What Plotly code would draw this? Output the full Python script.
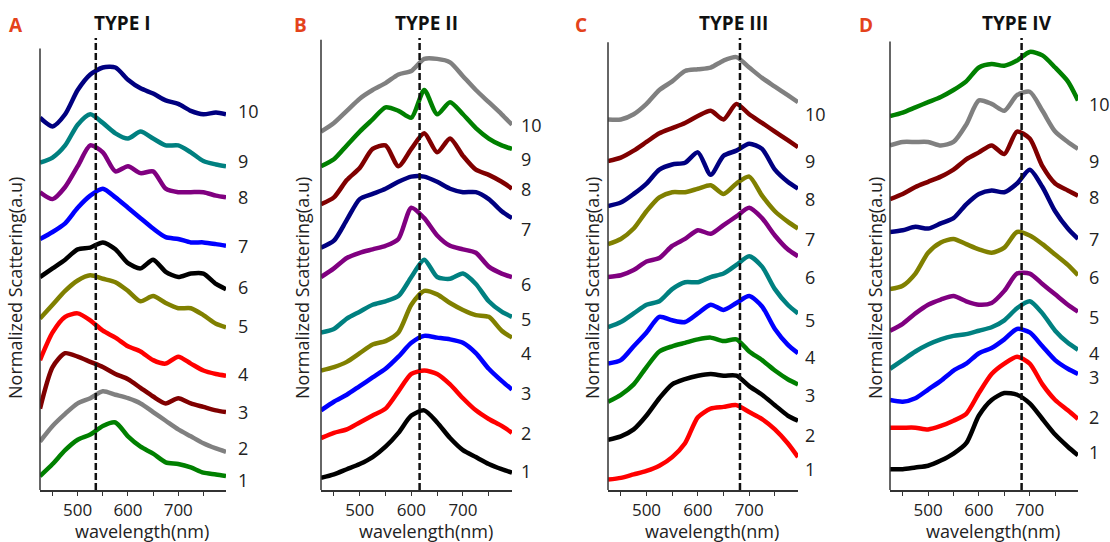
import plotly.graph_objects as go

# ---------------- data ----------------
wavelength = [425, 450, 475, 500, 525, 550, 575, 600, 625, 650, 675, 700, 725, 750, 775, 795]
curve_labels = ["1", "2", "3", "4", "5", "6", "7", "8", "9", "10"]

# TYPE I (stacked normalized scattering, a.u.)
a1 = [0.40, 0.75, 1.15, 1.45, 1.60, 1.85, 1.95, 1.55, 1.25, 1.05, 0.80, 0.75, 0.65, 0.50, 0.45, 0.40]
a2 = [1.40, 1.85, 2.20, 2.50, 2.65, 2.85, 2.75, 2.65, 2.50, 2.25, 2.00, 1.75, 1.55, 1.35, 1.20, 1.10]
a3 = [2.35, 3.55, 3.95, 3.85, 3.70, 3.55, 3.35, 3.20, 2.95, 2.70, 2.50, 2.65, 2.50, 2.40, 2.30, 2.25]
a4 = [3.75, 4.55, 5.00, 5.10, 4.90, 4.60, 4.40, 4.15, 4.00, 3.75, 3.65, 3.85, 3.65, 3.45, 3.35, 3.30]
a5 = [4.95, 5.35, 5.75, 6.05, 6.20, 6.10, 6.00, 5.75, 5.45, 5.60, 5.40, 5.25, 5.25, 5.05, 4.80, 4.70]
a6 = [6.15, 6.40, 6.65, 6.95, 7.00, 7.15, 6.95, 6.55, 6.40, 6.65, 6.30, 6.15, 6.25, 6.25, 5.95, 5.80]
a7 = [7.25, 7.45, 7.70, 8.15, 8.50, 8.70, 8.45, 8.15, 7.85, 7.55, 7.30, 7.25, 7.15, 7.15, 7.10, 7.05]
a8 = [8.60, 8.40, 8.75, 9.35, 9.95, 9.75, 9.20, 9.35, 9.15, 9.20, 8.70, 8.60, 8.60, 8.60, 8.50, 8.45]
a9 = [9.45, 9.60, 9.95, 10.55, 10.85, 10.60, 10.30, 10.15, 10.35, 10.15, 9.95, 9.95, 9.75, 9.50, 9.40, 9.35]
a10 = [10.75, 10.50, 10.85, 11.55, 12.00, 12.20, 12.20, 11.85, 11.60, 11.45, 11.25, 11.15, 10.95, 10.85, 10.90, 10.85]
a_label_y = [0.30, 1.20, 2.25, 3.35, 4.75, 5.85, 7.05, 8.45, 9.50, 10.95]

# TYPE II
b1 = [0.35, 0.45, 0.60, 0.75, 0.95, 1.25, 1.65, 2.15, 2.30, 1.95, 1.50, 1.15, 0.95, 0.75, 0.60, 0.50]
b2 = [1.50, 1.65, 1.75, 1.95, 2.15, 2.35, 2.85, 3.35, 3.45, 3.35, 3.05, 2.65, 2.30, 2.05, 1.85, 1.65]
b3 = [2.30, 2.55, 2.75, 3.00, 3.25, 3.50, 3.85, 4.25, 4.45, 4.40, 4.35, 4.25, 3.95, 3.50, 3.15, 2.90]
b4 = [3.45, 3.55, 3.70, 3.95, 4.20, 4.30, 4.55, 5.35, 5.75, 5.65, 5.40, 5.20, 5.05, 5.00, 4.60, 4.40]
b5 = [4.55, 4.65, 4.95, 5.15, 5.35, 5.45, 5.60, 6.15, 6.65, 6.15, 6.10, 6.25, 5.95, 5.45, 5.15, 5.00]
b6 = [6.15, 6.40, 6.70, 6.85, 6.95, 7.05, 7.25, 8.15, 7.85, 7.35, 7.05, 6.95, 6.85, 6.45, 6.25, 6.15]
b7 = [7.00, 7.20, 7.80, 8.40, 8.55, 8.70, 8.90, 9.05, 9.05, 8.90, 8.70, 8.60, 8.60, 8.40, 8.05, 7.85]
b8 = [8.25, 8.45, 8.95, 9.30, 9.85, 9.95, 9.35, 9.85, 10.30, 9.75, 10.15, 9.65, 9.25, 9.10, 8.90, 8.70]
b9 = [9.35, 9.55, 9.95, 10.35, 10.70, 11.05, 10.95, 10.75, 11.55, 10.85, 11.20, 10.85, 10.45, 10.15, 9.95, 9.85]
b10 = [10.35, 10.60, 10.95, 11.30, 11.55, 11.75, 12.00, 12.10, 12.45, 12.45, 12.35, 11.95, 11.55, 11.20, 10.85, 10.55]
b_label_y = [0.55, 1.65, 2.80, 3.95, 4.95, 5.95, 7.55, 8.70, 9.55, 10.55]

# TYPE III
c1 = [0.30, 0.35, 0.45, 0.55, 0.70, 0.95, 1.35, 2.10, 2.35, 2.40, 2.45, 2.25, 2.05, 1.75, 1.35, 0.95]
c2 = [1.45, 1.55, 1.75, 2.15, 2.65, 3.05, 3.20, 3.30, 3.35, 3.30, 3.30, 3.00, 2.75, 2.45, 2.15, 2.00]
c3 = [2.55, 2.75, 3.05, 3.55, 4.00, 4.15, 4.25, 4.35, 4.40, 4.30, 4.35, 4.00, 3.75, 3.45, 3.20, 3.05]
c4 = [3.65, 3.75, 4.15, 4.55, 5.00, 4.90, 4.85, 5.10, 5.35, 5.20, 5.40, 5.60, 5.30, 4.65, 4.20, 3.95]
c5 = [4.70, 4.85, 5.10, 5.35, 5.45, 5.80, 6.00, 6.00, 6.15, 6.25, 6.50, 6.75, 6.45, 5.80, 5.35, 5.10]
c6 = [6.15, 6.20, 6.35, 6.60, 6.70, 7.05, 7.25, 7.50, 7.40, 7.65, 7.90, 8.15, 7.85, 7.35, 6.95, 6.75]
c7 = [7.10, 7.25, 7.55, 8.05, 8.45, 8.60, 8.60, 8.70, 8.80, 8.55, 8.85, 9.05, 8.50, 8.05, 7.75, 7.55]
c8 = [8.20, 8.30, 8.55, 8.85, 9.25, 9.40, 9.45, 9.75, 9.10, 9.65, 9.80, 10.00, 9.85, 9.25, 8.90, 8.70]
c9 = [9.50, 9.60, 9.80, 10.05, 10.30, 10.45, 10.60, 10.80, 10.95, 10.70, 11.15, 10.85, 10.60, 10.35, 10.10, 9.90]
c10 = [10.70, 10.70, 10.85, 11.15, 11.55, 11.80, 12.10, 12.15, 12.20, 12.40, 12.50, 12.20, 11.90, 11.65, 11.40, 11.20]
c_label_y = [0.60, 1.60, 2.75, 3.85, 4.90, 6.15, 7.25, 8.40, 9.50, 10.85]

# TYPE IV
d1 = [0.60, 0.60, 0.65, 0.70, 0.85, 1.05, 1.35, 2.15, 2.60, 2.80, 2.75, 2.50, 2.05, 1.60, 1.25, 1.00]
d2 = [1.80, 1.80, 1.80, 1.75, 1.85, 2.00, 2.20, 2.80, 3.35, 3.65, 3.85, 3.65, 3.05, 2.60, 2.30, 2.05]
d3 = [2.60, 2.55, 2.65, 2.90, 3.15, 3.45, 3.65, 3.95, 4.10, 4.35, 4.65, 4.55, 4.15, 3.75, 3.50, 3.35]
d4 = [3.50, 3.75, 4.00, 4.20, 4.35, 4.45, 4.50, 4.60, 4.70, 4.90, 5.25, 5.45, 5.10, 4.60, 4.25, 4.05]
d5 = [4.60, 4.80, 5.10, 5.35, 5.50, 5.60, 5.45, 5.35, 5.40, 5.75, 6.25, 6.25, 5.95, 5.65, 5.35, 5.15]
d6 = [5.80, 5.90, 6.25, 6.85, 7.15, 7.25, 7.10, 6.95, 6.85, 7.00, 7.45, 7.35, 7.10, 6.80, 6.50, 6.20]
d7 = [7.45, 7.50, 7.60, 7.55, 7.70, 7.85, 8.25, 8.55, 8.65, 8.60, 8.85, 9.25, 8.75, 8.05, 7.55, 7.25]
d8 = [8.40, 8.55, 8.75, 8.90, 9.05, 9.25, 9.55, 9.75, 9.95, 9.70, 10.35, 10.15, 9.35, 8.85, 8.65, 8.50]
d9 = [9.95, 10.05, 10.05, 10.05, 9.95, 10.05, 10.55, 11.25, 11.15, 10.95, 11.40, 11.50, 10.95, 10.35, 10.05, 9.85]
d10 = [10.80, 10.90, 11.05, 11.20, 11.35, 11.55, 11.80, 12.20, 12.30, 12.25, 12.40, 12.65, 12.55, 12.20, 11.80, 11.25]
d_label_y = [1.10, 2.10, 3.25, 3.95, 5.00, 6.15, 7.25, 8.45, 9.50, 11.15]

peak_wavelength = [536, 616, 682, 684]
panel_titles = ["TYPE I", "TYPE II", "TYPE III", "TYPE IV"]
panel_letters = ["A", "B", "C", "D"]

# ---------------- styling / layout ----------------
NAVY, TEAL, PURPLE, BLUE, BLACK = "#000080", "#008080", "#800080", "#0000FF", "#000000"
OLIVE, RED, MAROON, GRAY, GREEN = "#808000", "#FF0000", "#800000", "#808080", "#008000"

colors_a = [GREEN, GRAY, MAROON, RED, OLIVE, BLACK, BLUE, PURPLE, TEAL, NAVY]
colors_b = [BLACK, RED, BLUE, OLIVE, TEAL, PURPLE, NAVY, MAROON, GREEN, GRAY]
colors_c = [RED, BLACK, GREEN, BLUE, TEAL, PURPLE, OLIVE, NAVY, MAROON, GRAY]
colors_d = [BLACK, RED, BLUE, TEAL, PURPLE, OLIVE, NAVY, MAROON, GRAY, GREEN]

W, H = 1110, 542
AX_BOTTOM_PX = 490
Y_TOP = 13.1
PX_PER_UNIT = 34.63
top_px = AX_BOTTOM_PX - Y_TOP * PX_PER_UNIT

panels = [
    dict(series=[a1, a2, a3, a4, a5, a6, a7, a8, a9, a10], colors=colors_a, label_y=a_label_y,
         x0=40, x1=226, axis_top=12.75, letter_x=16, title_x=122, ylab_x=15, lab_dx=10),
    dict(series=[b1, b2, b3, b4, b5, b6, b7, b8, b9, b10], colors=colors_b, label_y=b_label_y,
         x0=321, x1=512, axis_top=13.0, letter_x=300, title_x=426, ylab_x=302, lab_dx=7),
    dict(series=[c1, c2, c3, c4, c5, c6, c7, c8, c9, c10], colors=colors_c, label_y=c_label_y,
         x0=608, x1=798, axis_top=12.93, letter_x=581, title_x=733, ylab_x=592, lab_dx=5),
    dict(series=[d1, d2, d3, d4, d5, d6, d7, d8, d9, d10], colors=colors_d, label_y=d_label_y,
         x0=890, x1=1078, axis_top=12.95, letter_x=866, title_x=1017, ylab_x=875, lab_dx=9),
]

FONT = "Open Sans"
fig = go.Figure()
annotations = []
shapes = []
layout_axes = {}

for k, p in enumerate(panels, start=1):
    xa = "x" if k == 1 else f"x{k}"
    ya = "y" if k == 1 else f"y{k}"
    xkey = "xaxis" if k == 1 else f"xaxis{k}"
    ykey = "yaxis" if k == 1 else f"yaxis{k}"

    for i, vals in enumerate(p["series"]):
        fig.add_trace(go.Scatter(
            x=wavelength, y=vals, mode="lines", xaxis=xa, yaxis=ya,
            line=dict(color=p["colors"][i], width=4.5, shape="spline", smoothing=0.7),
            showlegend=False, hoverinfo="skip"))

    layout_axes[xkey] = dict(
        domain=[p["x0"] / W, p["x1"] / W], anchor=ya, range=[425, 795],
        tickvals=[500, 600, 700], ticks="outside", ticklen=4, tickwidth=1.3,
        tickcolor="#333", minor=dict(tickvals=[450, 550, 650, 750], ticks="outside",
                                      ticklen=4, tickwidth=1.3, tickcolor="#333"),
        showline=True, linecolor="#333", linewidth=1.5, showgrid=False, zeroline=False,
        tickfont=dict(family=FONT, size=17, color="#222"), fixedrange=True)
    layout_axes[ykey] = dict(
        domain=[(H - AX_BOTTOM_PX) / H, (H - top_px) / H], anchor=xa, range=[0, Y_TOP],
        showticklabels=False, showline=False, showgrid=False, zeroline=False, ticks="",
        fixedrange=True)

    # y axis line
    shapes.append(dict(type="line", xref="paper", yref="paper",
                       x0=p["x0"] / W, x1=p["x0"] / W,
                       y0=(H - AX_BOTTOM_PX) / H,
                       y1=(H - (AX_BOTTOM_PX - p["axis_top"] * PX_PER_UNIT)) / H,
                       line=dict(color="#333", width=1.5)))
    # dashed peak line
    shapes.append(dict(type="line", xref=xa, yref=ya,
                       x0=peak_wavelength[k - 1], x1=peak_wavelength[k - 1],
                       y0=0, y1=13.05, line=dict(color="#111", width=2.5, dash="7px,3px")))

    # curve number labels
    for i, lab in enumerate(curve_labels):
        annotations.append(dict(text=lab, xref=f"{xa} domain", yref=ya, x=1, y=p["label_y"][i],
                                xanchor="left", yanchor="middle", xshift=p["lab_dx"],
                                showarrow=False, font=dict(family=FONT, size=18, color="#222")))

    # panel letter and title
    annotations.append(dict(text=f"<b>{panel_letters[k-1]}</b>", xref="paper", yref="paper",
                            x=p["letter_x"] / W, y=(H - 25) / H, xanchor="center", yanchor="middle",
                            showarrow=False, font=dict(family=FONT, size=19, color="#E4421B")))
    annotations.append(dict(text=f"<b>{panel_titles[k-1]}</b>", xref="paper", yref="paper",
                            x=p["title_x"] / W, y=(H - 23) / H, xanchor="center", yanchor="middle",
                            showarrow=False, font=dict(family=FONT, size=19, color="#111")))
    # axis titles
    annotations.append(dict(text="wavelength(nm)", xref="paper", yref="paper",
                            x=((p["x0"] + p["x1"]) / 2 + 9) / W, y=(H - 531) / H,
                            xanchor="center", yanchor="middle", showarrow=False,
                            font=dict(family=FONT, size=18, color="#222")))
    annotations.append(dict(text="Normalized Scattering(a.u)", xref="paper", yref="paper",
                            x=p["ylab_x"] / W, y=(H - 288) / H, textangle=-90,
                            xanchor="center", yanchor="middle", showarrow=False,
                            font=dict(family=FONT, size=18, color="#222")))

fig.update_layout(
    width=W, height=H, margin=dict(l=0, r=0, t=0, b=0),
    paper_bgcolor="white", plot_bgcolor="white",
    annotations=annotations, shapes=shapes, **layout_axes)

fig.write_html("out.html", config={"displayModeBar": False},
               post_script="document.body.style.margin='0';document.body.style.overflow='hidden';")
